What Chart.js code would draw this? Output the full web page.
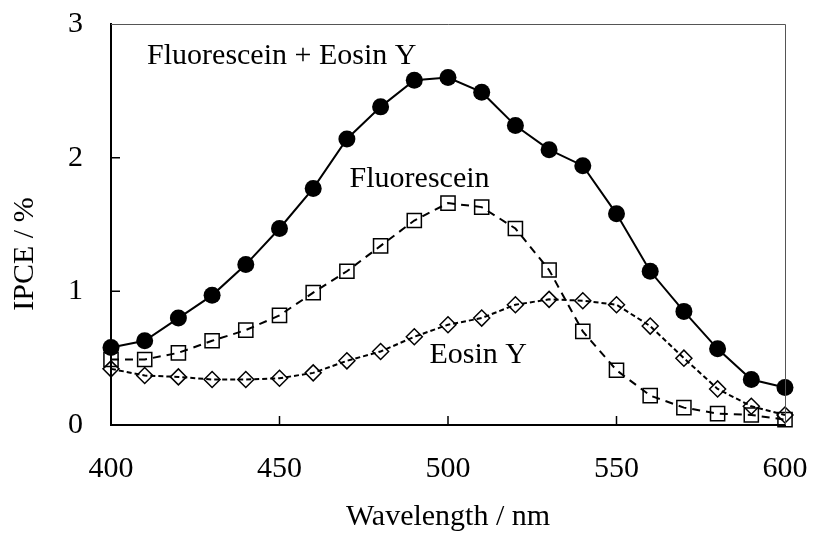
<!DOCTYPE html>
<html>
<head>
<meta charset="utf-8">
<script src="https://cdn.jsdelivr.net/npm/chart.js@4"></script>
<style>
  body { margin: 0; background: #fff; }
  #wrap { width: 814px; height: 535px; }
</style>
</head>
<body>
<div id="wrap"><canvas id="ipceChart" width="814" height="535"></canvas></div>
<script>
const wavelengths = [400, 410, 420, 430, 440, 450, 460, 470, 480, 490, 500, 510, 520, 530, 540, 550, 560, 570, 580, 590, 600];
const bothDyes   = [0.58, 0.63, 0.80, 0.97, 1.20, 1.47, 1.77, 2.14, 2.38, 2.58, 2.60, 2.49, 2.24, 2.06, 1.94, 1.58, 1.15, 0.85, 0.57, 0.34, 0.28];
const fluorescein = [0.49, 0.49, 0.54, 0.63, 0.71, 0.82, 0.99, 1.15, 1.34, 1.53, 1.66, 1.63, 1.47, 1.16, 0.70, 0.41, 0.22, 0.13, 0.085, 0.075, 0.04];
const eosinY     = [0.42, 0.37, 0.36, 0.34, 0.34, 0.35, 0.39, 0.48, 0.55, 0.66, 0.75, 0.80, 0.90, 0.94, 0.93, 0.90, 0.74, 0.50, 0.27, 0.14, 0.075];
const xTicks = [400, 450, 500, 550, 600];
const yTicks = [0, 1, 2, 3];

// curve labels, placed in data units (left edge, baseline)
const curveLabels = [
    { text: 'Fluorescein + Eosin Y', x: 410.7, y: 2.70 },
    { text: 'Fluorescein', x: 470.8, y: 1.78 },
    { text: 'Eosin Y', x: 494.5, y: 0.465 }
];

const serif = "'Liberation Serif', 'Times New Roman', serif";

function toPoints(vals) {
    return wavelengths.map((w, i) => ({ x: w, y: vals[i] }));
}

const decorations = {
    id: 'decorations',
    afterDraw(chart) {
        const ctx = chart.ctx;
        const a = chart.chartArea;
        const xs = chart.scales.x, ys = chart.scales.y;
        ctx.save();
        // thin frame on top and right
        ctx.strokeStyle = '#555';
        ctx.lineWidth = 1;
        ctx.beginPath();
        ctx.moveTo(a.left, a.top + 0.5);
        ctx.lineTo(a.right + 0.5, a.top + 0.5);
        ctx.lineTo(a.right + 0.5, a.bottom);
        ctx.stroke();
        // inward ticks
        ctx.strokeStyle = '#000';
        ctx.lineWidth = 1.5;
        ctx.beginPath();
        xTicks.slice(1, -1).forEach(v => {
            const px = xs.getPixelForValue(v);
            ctx.moveTo(px, a.bottom);
            ctx.lineTo(px, a.bottom - 9);
        });
        yTicks.slice(1, -1).forEach(v => {
            const py = ys.getPixelForValue(v);
            ctx.moveTo(a.left, py);
            ctx.lineTo(a.left + 9, py);
        });
        ctx.stroke();
        // curve labels
        ctx.fillStyle = '#000';
        ctx.font = '30px ' + serif;
        ctx.textAlign = 'left';
        ctx.textBaseline = 'alphabetic';
        curveLabels.forEach(l => {
            ctx.fillText(l.text, xs.getPixelForValue(l.x), ys.getPixelForValue(l.y));
        });
        // axis titles
        ctx.textAlign = 'center';
        ctx.fillText('Wavelength / nm', (a.left + a.right) / 2, 525);
        ctx.translate(25, 254);
        ctx.rotate(-Math.PI / 2);
        ctx.textBaseline = 'middle';
        ctx.fillText('IPCE / %', 0, 0);
        ctx.restore();
    }
};

const ctx = document.getElementById('ipceChart').getContext('2d');
new Chart(ctx, {
    type: 'line',
    data: {
        datasets: [
            {
                label: 'Fluorescein + Eosin Y',
                data: toPoints(bothDyes),
                borderColor: '#000',
                borderWidth: 2,
                pointStyle: 'circle',
                pointRadius: 8.5,
                pointBackgroundColor: '#000',
                pointBorderColor: '#000',
                pointBorderWidth: 0,
                fill: false,
                clip: false
            },
            {
                label: 'Fluorescein',
                data: toPoints(fluorescein),
                borderColor: '#000',
                borderWidth: 2,
                borderDash: [8, 6],
                pointStyle: 'rect',
                pointRadius: 10,
                pointBackgroundColor: 'rgba(0,0,0,0)',
                pointBorderColor: '#000',
                pointBorderWidth: 1.5,
                fill: false,
                clip: false
            },
            {
                label: 'Eosin Y',
                data: toPoints(eosinY),
                borderColor: '#000',
                borderWidth: 2,
                borderDash: [5, 3],
                pointStyle: 'rectRot',
                pointRadius: 8,
                pointBackgroundColor: 'rgba(0,0,0,0)',
                pointBorderColor: '#000',
                pointBorderWidth: 1.5,
                fill: false,
                clip: false
            }
        ]
    },
    options: {
        responsive: false,
        animation: false,
        layout: { padding: { top: 24, right: 29, left: 0, bottom: 0 } },
        plugins: {
            legend: { display: false },
            tooltip: { enabled: false }
        },
        scales: {
            x: {
                type: 'linear',
                min: 400,
                max: 600,
                afterBuildTicks: s => { s.ticks = xTicks.map(v => ({ value: v })); },
                afterFit: s => { s.height = 110; s.paddingLeft = 0; s.paddingRight = 0; },
                grid: { display: false, drawTicks: false },
                border: { color: '#000', width: 2 },
                ticks: {
                    color: '#000',
                    padding: 26,
                    maxRotation: 0,
                    font: { family: serif, size: 30 }
                }
            },
            y: {
                min: 0,
                max: 3,
                afterBuildTicks: s => { s.ticks = yTicks.map(v => ({ value: v })); },
                afterFit: s => { s.width = 111; s.paddingTop = 0; s.paddingBottom = 0; },
                grid: { display: false, drawTicks: false },
                border: { color: '#000', width: 2 },
                ticks: {
                    color: '#000',
                    padding: 28,
                    font: { family: serif, size: 30 }
                }
            }
        }
    },
    plugins: [decorations]
});
</script>
</body>
</html>
